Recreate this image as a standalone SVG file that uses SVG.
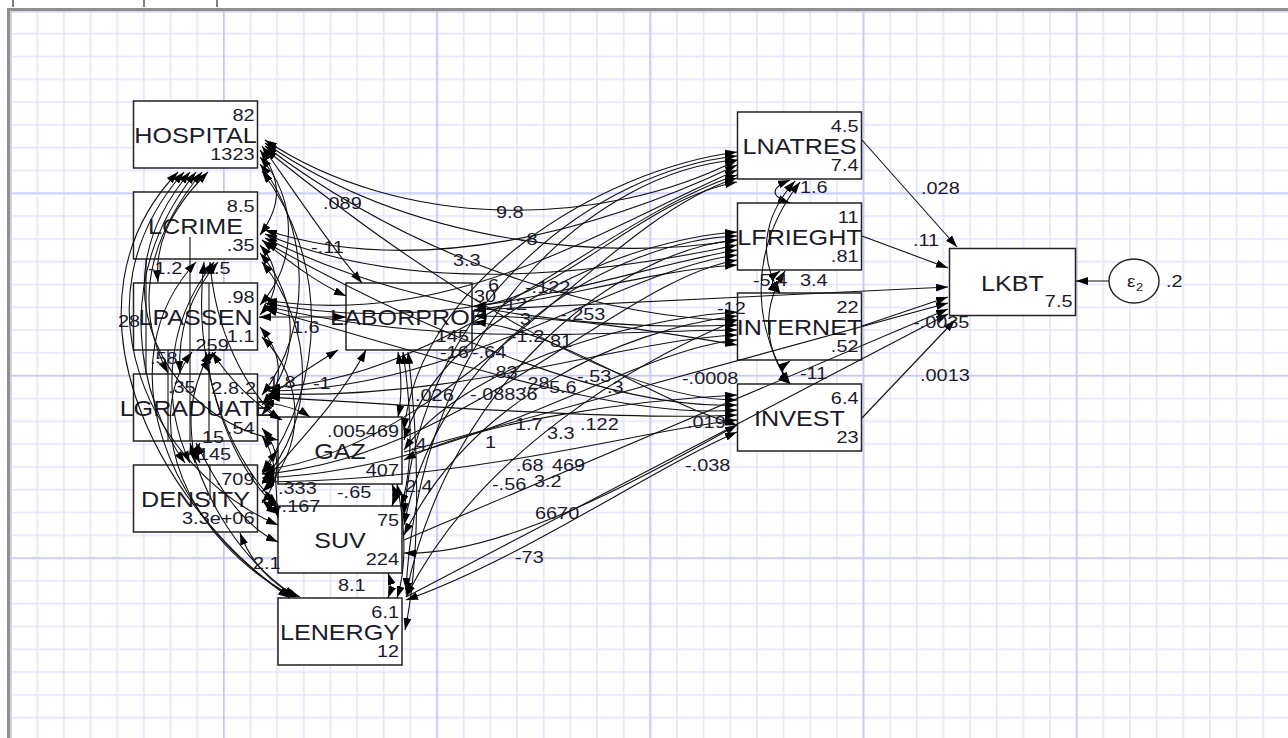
<svg xmlns="http://www.w3.org/2000/svg" width="1288" height="738" viewBox="0 0 1288 738">
<defs>
<pattern id="gmin" x="9.8" y="10.1" width="26.65" height="22.8" patternUnits="userSpaceOnUse"><path d="M0.8,0V22.8M0,0.8H26.65" stroke="#e4e4ff" stroke-width="1.6" fill="none"/></pattern>
<pattern id="gmaj" x="9.8" y="10.1" width="213.2" height="182.4" patternUnits="userSpaceOnUse"><path d="M0.8,0V182.4M0,0.8H213.2" stroke="#c6c6fa" stroke-width="1.6" fill="none"/></pattern>
<marker id="ah" viewBox="0 0 12 8" refX="12" refY="4" markerWidth="12" markerHeight="8" markerUnits="userSpaceOnUse" orient="auto-start-reverse"><path d="M0,0L12,4L0,8z" fill="#000"/></marker>
</defs>
<style>
.nb{fill:#fff;stroke:#222;stroke-width:1.5}
.c{fill:none;stroke:#111;stroke-width:1.1;marker-start:url(#ah);marker-end:url(#ah)}
.p{fill:none;stroke:#111;stroke-width:1.1;marker-end:url(#ah)}
.v{fill:none;stroke:#111;stroke-width:1.1}
text{font-family:"Liberation Sans",Arial,sans-serif;fill:#1b1b2b}
.n{font-size:17px}
.e{text-anchor:end}
.lb{font-size:21.5px;text-anchor:middle}
</style>
<rect x="0" y="0" width="1288" height="738" fill="#fff"/>
<rect x="10" y="10" width="1278" height="728" fill="url(#gmin)"/>
<rect x="10" y="10" width="1278" height="728" fill="url(#gmaj)"/>
<path d="M8.5,738V9.5H1288" fill="none" stroke="#8f8f8f" stroke-width="3"/>
<path d="M11,738V12H1288" fill="none" stroke="#d0d0d0" stroke-width="1"/>
<path d="M13,0V7M144,0V7M217,0V7" stroke="#000" stroke-width="1"/>

<g id="HOSPITAL"><rect class="nb" x="133.5" y="101" width="124" height="67"/><text class="n e" transform="translate(254.5,120.5) scale(1.17,1)">82</text><text class="lb" transform="translate(195.5,143) scale(1.17,1)">HOSPITAL</text><text class="n e" transform="translate(254.5,159.5) scale(1.17,1)">1323</text></g>
<g id="LCRIME"><rect class="nb" x="133.5" y="192" width="124" height="67"/><text class="n e" transform="translate(254.5,211.5) scale(1.17,1)">8.5</text><text class="lb" transform="translate(195.5,234) scale(1.17,1)">LCRIME</text><text class="n e" transform="translate(254.5,250.5) scale(1.17,1)">.35</text></g>
<g id="LPASSEN"><rect class="nb" x="133.5" y="283" width="124" height="67"/><text class="n e" transform="translate(254.5,302.5) scale(1.17,1)">.98</text><text class="lb" transform="translate(195.5,325) scale(1.17,1)">LPASSEN</text><text class="n e" transform="translate(254.5,341.5) scale(1.17,1)">1.1</text></g>
<g id="LGRADUATE"><rect class="nb" x="133.5" y="374" width="124" height="67"/><text class="n e" transform="translate(256,393.5) scale(1.17,1)">.2</text><text class="n e" transform="translate(239,393.5) scale(1.17,1)">2.8</text><text class="lb" transform="translate(195.5,416) scale(1.17,1)">LGRADUATE</text><text class="n e" transform="translate(254.5,434) scale(1.17,1)">.54</text></g>
<g id="DENSITY"><rect class="nb" x="133.5" y="465" width="124" height="67"/><text class="n e" transform="translate(254.5,484.5) scale(1.17,1)">.709</text><text class="lb" transform="translate(195.5,507) scale(1.17,1)">DENSITY</text><text class="n e" transform="translate(254.5,523.5) scale(1.17,1)">3.3e+06</text></g>
<g id="LABORPROD"><rect class="nb" x="346" y="283" width="126" height="67"/><text class="lb" transform="translate(409,325) scale(1.17,1)">LABORPROD</text><text class="n e" transform="translate(469,341.5) scale(1.17,1)">145</text></g>
<g id="GAZ"><rect class="nb" x="278" y="417" width="124" height="67"/><text class="n e" transform="translate(399,436.5) scale(1.17,1)">.005469</text><text class="lb" transform="translate(340,459) scale(1.17,1)">GAZ</text><text class="n e" transform="translate(399,475.5) scale(1.17,1)">407</text></g>
<g id="SUV"><rect class="nb" x="278" y="506" width="124" height="67"/><text class="n e" transform="translate(399,525.5) scale(1.17,1)">75</text><text class="lb" transform="translate(340,548) scale(1.17,1)">SUV</text><text class="n e" transform="translate(399,564.5) scale(1.17,1)">224</text></g>
<g id="LENERGY"><rect class="nb" x="278" y="598" width="124" height="67"/><text class="n e" transform="translate(399,617.5) scale(1.17,1)">6.1</text><text class="lb" transform="translate(340,640) scale(1.17,1)">LENERGY</text><text class="n e" transform="translate(399,656.5) scale(1.17,1)">12</text></g>
<g id="LNATRES"><rect class="nb" x="737.5" y="112" width="124" height="67"/><text class="n e" transform="translate(858.5,131.5) scale(1.17,1)">4.5</text><text class="lb" transform="translate(799.5,154) scale(1.17,1)">LNATRES</text><text class="n e" transform="translate(858.5,170.5) scale(1.17,1)">7.4</text></g>
<g id="LFRIEGHT"><rect class="nb" x="737.5" y="203" width="124" height="67"/><text class="n e" transform="translate(858.5,222.5) scale(1.17,1)">11</text><text class="lb" transform="translate(799.5,245) scale(1.17,1)">LFRIEGHT</text><text class="n e" transform="translate(858.5,261.5) scale(1.17,1)">.81</text></g>
<g id="INTERNET"><rect class="nb" x="737.5" y="293" width="124" height="67"/><text class="n e" transform="translate(858.5,312.5) scale(1.17,1)">22</text><text class="lb" transform="translate(799.5,335) scale(1.17,1)">INTERNET</text><text class="n e" transform="translate(858.5,351.5) scale(1.17,1)">.52</text></g>
<g id="INVEST"><rect class="nb" x="737.5" y="384" width="124" height="67"/><text class="n e" transform="translate(858.5,403.5) scale(1.17,1)">6.4</text><text class="lb" transform="translate(799.5,426) scale(1.17,1)">INVEST</text><text class="n e" transform="translate(858.5,442.5) scale(1.17,1)">23</text></g>
<g id="LKBT"><rect class="nb" x="949.5" y="248.5" width="126" height="67"/><text class="lb" transform="translate(1012.5,290.5) scale(1.17,1)">LKBT</text><text class="n e" transform="translate(1072.5,307) scale(1.17,1)">7.5</text></g>
<g id="e2"><ellipse cx="1134" cy="281" rx="25" ry="22" fill="#fff" stroke="#222" stroke-width="1.4"/><text transform="translate(1127,287) scale(1.17,1)" font-size="16">ε</text><text transform="translate(1136,291) scale(1.17,1)" font-size="11">2</text><text class="n" transform="translate(1166,287) scale(1.17,1)">.2</text></g>

<g id="connectors">
<path class="v" d="M146,259V374M190,237V441M209,283V441M168,350V441M210,465V500"/>
<path class="c" d="M178,172C55,300 150,500 290,598"/>
<path class="c" d="M184,172C70,300 150,470 278,525"/>
<path class="c" d="M190,172C90,290 170,420 278,440"/>
<path class="c" d="M196,172C110,280 140,400 185,463"/>
<path class="c" d="M202,172C130,260 145,330 168,373"/>
<path class="c" d="M208,172C165,215 155,250 158,282"/>
<path class="c" d="M196,262C105,360 165,520 292,597"/>
<path class="c" d="M204,262C190,380 240,470 278,505"/>
<path class="c" d="M210,262C215,330 245,390 280,420"/>
<path class="c" d="M214,262C160,330 165,410 190,463"/>
<path class="c" d="M218,262C185,300 178,340 180,373"/>
<path class="c" d="M192,352C140,420 185,540 294,597"/>
<path class="c" d="M206,352C215,420 245,480 278,508"/>
<path class="c" d="M212,352C230,380 255,405 282,420"/>
<path class="c" d="M210,352C185,400 190,430 195,463"/>
<path class="c" d="M216,352C206,360 206,366 210,373"/>
<path class="c" d="M190,443C205,500 240,560 296,597"/>
<path class="c" d="M196,443C215,480 240,525 278,542"/>
<path class="c" d="M200,443C196,450 196,455 200,463"/>
<path class="c" d="M240,533C250,560 270,585 300,597"/>
<path class="c" d="M260,150C282,180 282,205 260,235"/>
<path class="c" d="M260,157C298,200 298,262 260,305"/>
<path class="c" d="M260,164C312,230 312,330 262,395"/>
<path class="c" d="M262,171C328,260 328,380 262,472"/>
<path class="c" d="M260,245C280,268 280,292 260,315"/>
<path class="c" d="M260,253C300,300 300,360 262,405"/>
<path class="c" d="M262,262C316,330 316,420 262,482"/>
<path class="c" d="M260,327C284,355 284,385 262,415"/>
<path class="c" d="M262,337C306,380 306,450 262,492"/>
<path class="c" d="M262,428C282,452 282,478 262,503"/>
<path class="c" d="M262,146C300,200 330,245 362,283"/>
<path class="c" d="M262,240C290,262 315,282 346,296"/>
<path class="c" d="M259,317L346,317"/>
<path class="c" d="M268,398C290,380 315,364 338,350"/>
<path class="c" d="M262,484C300,440 340,400 366,350"/>
<path class="c" d="M262,402C285,405 300,410 310,417"/>
<path class="c" d="M262,474C270,465 274,455 278,450"/>
<path class="c" d="M262,500C268,505 272,510 278,514"/>
<path class="c" d="M262,436C280,460 275,500 278,518"/>
<path class="c" d="M398,352C402,378 402,398 398,417"/>
<path class="c" d="M403,352C413,420 413,470 401,506"/>
<path class="c" d="M408,352C420,450 420,560 405,630"/>
<path class="c" d="M392,484C395,492 395,498 392,506"/>
<path class="c" d="M397,484C406,530 406,570 397,598"/>
<path class="c" d="M388,573C391,582 391,590 388,598"/>
<path class="c" d="M265,140C400,230 600,230 737,160"/>
<path class="c" d="M265,143C420,250 620,260 737,240"/>
<path class="c" d="M265,146C430,270 620,320 737,320"/>
<path class="c" d="M265,149C440,290 620,400 737,400"/>
<path class="c" d="M265,230C420,280 600,230 737,165"/>
<path class="c" d="M265,234C420,300 620,270 737,245"/>
<path class="c" d="M265,238C430,320 620,330 737,325"/>
<path class="c" d="M265,242C440,340 620,410 737,405"/>
<path class="c" d="M265,300C450,330 600,230 737,170"/>
<path class="c" d="M265,303C450,340 620,270 737,250"/>
<path class="c" d="M265,306C450,350 620,330 737,330"/>
<path class="c" d="M265,309C450,360 620,420 737,410"/>
<path class="c" d="M268,388C450,380 600,220 737,175"/>
<path class="c" d="M268,391C460,390 620,270 737,255"/>
<path class="c" d="M268,394C470,400 620,340 737,335"/>
<path class="c" d="M268,397C480,410 640,420 737,415"/>
<path class="c" d="M262,470C450,450 600,220 737,178"/>
<path class="c" d="M262,474C460,460 620,280 737,260"/>
<path class="c" d="M262,478C470,470 630,350 737,340"/>
<path class="c" d="M262,482C480,480 640,430 737,420"/>
<path class="c" d="M474,306C560,300 640,200 737,182"/>
<path class="c" d="M474,310C560,300 650,270 737,265"/>
<path class="c" d="M474,316C560,316 650,330 737,345"/>
<path class="c" d="M474,322C560,330 650,400 737,425"/>
<path class="c" d="M404,430C420,280 600,170 737,152"/>
<path class="c" d="M404,440C440,320 620,240 737,232"/>
<path class="c" d="M404,450C460,370 620,320 737,312"/>
<path class="c" d="M404,460C480,420 640,400 737,395"/>
<path class="c" d="M404,515C420,300 600,170 737,156"/>
<path class="c" d="M404,525C440,340 620,240 737,236"/>
<path class="c" d="M404,535C470,400 620,330 737,316"/>
<path class="c" d="M404,553C500,556 640,480 737,425"/>
<path class="c" d="M406,590C420,320 600,170 737,160"/>
<path class="c" d="M406,594C450,380 620,250 737,240"/>
<path class="c" d="M406,597C480,450 640,360 737,320"/>
<path class="c" d="M406,600C520,560 650,470 737,432"/>
<path class="c" d="M790,180C770,188 770,196 790,203"/>
<path class="c" d="M795,181C760,220 760,260 780,293"/>
<path class="c" d="M800,182C740,260 760,340 790,384"/>
<path class="c" d="M780,271C770,278 770,286 780,293"/>
<path class="c" d="M785,271C760,310 765,350 790,384"/>
<path class="c" d="M790,361C780,368 780,376 790,384"/>
<path class="p" d="M862,140L957,247"/>
<path class="p" d="M862,236L948,268"/>
<path class="p" d="M474,310L948,287"/>
<path class="p" d="M862,326L948,297"/>
<path class="p" d="M404,452L948,303"/>
<path class="p" d="M404,540L948,309"/>
<path class="p" d="M406,597L948,314"/>
<path class="p" d="M862,418L955,320"/>
<path class="p" d="M1109,281L1076,281"/>
<text class="n" transform="translate(323,209) scale(1.17,1)">.089</text>
<text class="n" transform="translate(311,253) scale(1.17,1)">-.11</text>
<text class="n" transform="translate(496,218) scale(1.17,1)">9.8</text>
<text class="n" transform="translate(520,245) scale(1.17,1)">-8</text>
<text class="n" transform="translate(453,266) scale(1.17,1)">3.3</text>
<text class="n" transform="translate(488,291) scale(1.17,1)">6</text>
<text class="n" transform="translate(525,293) scale(1.17,1)">-.122</text>
<text class="n" transform="translate(505,310) scale(1.17,1)">12</text>
<text class="n" transform="translate(474,302) scale(1.17,1)">30</text>
<text class="n" transform="translate(520,325) scale(1.17,1)">3</text>
<text class="n" transform="translate(560,320) scale(1.17,1)">-.253</text>
<text class="n" transform="translate(510,342) scale(1.17,1)">-1.2</text>
<text class="n" transform="translate(550,347) scale(1.17,1)">81</text>
<text class="n" transform="translate(440,358) scale(1.17,1)">-16</text>
<text class="n" transform="translate(472,358) scale(1.17,1)">-.64</text>
<text class="n" transform="translate(490,378) scale(1.17,1)">.83</text>
<text class="n" transform="translate(522,389) scale(1.17,1)">.28</text>
<text class="n" transform="translate(549,393) scale(1.17,1)">5.6</text>
<text class="n" transform="translate(577,382) scale(1.17,1)">-.53</text>
<text class="n" transform="translate(607,393) scale(1.17,1)">.3</text>
<text class="n" transform="translate(415,401) scale(1.17,1)">.026</text>
<text class="n" transform="translate(470,400) scale(1.17,1)">-.08836</text>
<text class="n" transform="translate(515,430) scale(1.17,1)">1.7</text>
<text class="n" transform="translate(547,439) scale(1.17,1)">3.3</text>
<text class="n" transform="translate(580,430) scale(1.17,1)">.122</text>
<text class="n" transform="translate(485,448) scale(1.17,1)">1</text>
<text class="n" transform="translate(410,450) scale(1.17,1)">.4</text>
<text class="n" transform="translate(516,471) scale(1.17,1)">.68</text>
<text class="n" transform="translate(552,471) scale(1.17,1)">469</text>
<text class="n" transform="translate(534,487) scale(1.17,1)">3.2</text>
<text class="n" transform="translate(492,490) scale(1.17,1)">-.56</text>
<text class="n" transform="translate(535,519) scale(1.17,1)">6670</text>
<text class="n" transform="translate(515,563) scale(1.17,1)">-73</text>
<text class="n" transform="translate(682,384) scale(1.17,1)">-.0008</text>
<text class="n" transform="translate(687,428) scale(1.17,1)">.019</text>
<text class="n" transform="translate(685,471) scale(1.17,1)">-.038</text>
<text class="n" transform="translate(405,492) scale(1.17,1)">2.4</text>
<text class="n" transform="translate(337,498) scale(1.17,1)">-.65</text>
<text class="n" transform="translate(278,494) scale(1.17,1)">.333</text>
<text class="n" transform="translate(275,512) scale(1.17,1)">-.167</text>
<text class="n" transform="translate(338,591) scale(1.17,1)">8.1</text>
<text class="n" transform="translate(253,569) scale(1.17,1)">2.1</text>
<text class="n" transform="translate(292,333) scale(1.17,1)">1.6</text>
<text class="n" transform="translate(268,388) scale(1.17,1)">1.8</text>
<text class="n" transform="translate(313,389) scale(1.17,1)">-1</text>
<text class="n" transform="translate(148,274) scale(1.17,1)">-1.2</text>
<text class="n" transform="translate(214,274) scale(1.17,1)">.5</text>
<text class="n" transform="translate(150,364) scale(1.17,1)">.58</text>
<text class="n" transform="translate(190,351) scale(1.17,1)">.259</text>
<text class="n" transform="translate(168,393) scale(1.17,1)">.35</text>
<text class="n" transform="translate(118,327) scale(1.17,1)">28</text>
<text class="n" transform="translate(202,443) scale(1.17,1)">15</text>
<text class="n" transform="translate(198,460) scale(1.17,1)">145</text>
<text class="n" transform="translate(800,379) scale(1.17,1)">-11</text>
<text class="n" transform="translate(800,193) scale(1.17,1)">1.6</text>
<text class="n" transform="translate(753,286) scale(1.17,1)">-5.4</text>
<text class="n" transform="translate(800,286) scale(1.17,1)">3.4</text>
<text class="n" transform="translate(717,314) scale(1.17,1)">-12</text>
<text class="n" transform="translate(921,194) scale(1.17,1)">.028</text>
<text class="n" transform="translate(913,246) scale(1.17,1)">.11</text>
<text class="n" transform="translate(913,328) scale(1.17,1)">-.0035</text>
<text class="n" transform="translate(920,381) scale(1.17,1)">.0013</text>
</g>
</svg>
